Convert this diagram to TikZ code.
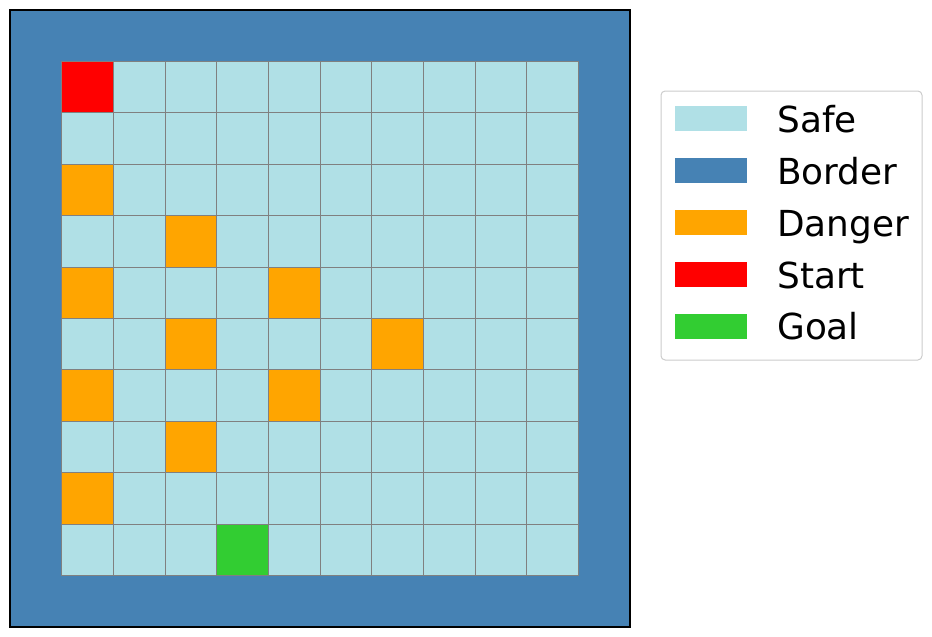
\documentclass[tikz,border=0pt]{standalone}
\usepackage{fontspec}
\setmainfont{DejaVu Sans}
\definecolor{safec}{HTML}{B0E0E6}
\definecolor{borderc}{HTML}{4682B4}
\definecolor{dangerc}{HTML}{FFA500}
\definecolor{startc}{HTML}{FF0000}
\definecolor{goalc}{HTML}{32CD32}
\begin{document}
\begin{tikzpicture}[x=0.72pt,y=-0.72pt,
  gridline/.style={draw=gray, line width=0.72pt},
  frame/.style={draw=black, line width=0.8pt},
  legbox/.style={draw=black!20, fill=white, rounded corners=3pt, line width=0.72pt},
  legtext/.style={anchor=base west, inner sep=0pt, font=\fontsize{25.8}{30}\selectfont, text=black}]
\useasboundingbox (0,0) rectangle (932,636);
\fill[white] (0,0) rectangle (932,636);
\def\cw{51.667}
\def\ch{51.417}
% border
\filldraw[fill=borderc, frame] (10,10) rectangle (630,627);
% safe cells
\foreach \r in {0,...,9}
  \foreach \c in {0,...,9}
    \fill[safec] ({10+\cw*(\c+1)},{10+\ch*(\r+1)}) rectangle ++(\cw,\ch);
% special cells
\foreach \c/\r/\col in {0/0/startc, 0/2/dangerc, 2/3/dangerc, 0/4/dangerc, 4/4/dangerc,
  2/5/dangerc, 6/5/dangerc, 0/6/dangerc, 4/6/dangerc, 2/7/dangerc, 0/8/dangerc, 3/9/goalc}
    \fill[\col] ({10+\cw*(\c+1)},{10+\ch*(\r+1)}) rectangle ++(\cw,\ch);
% grid lines
\foreach \i in {0,...,10} {
  \draw[gridline] ({61.667+\cw*\i},61.417) -- ++(0,{10*\ch});
  \draw[gridline] (61.667,{61.417+\ch*\i}) -- ++({10*\cw},0);
}
% legend
\draw[legbox] (661,91) rectangle (922,360);
\foreach \y/\col in {106/safec, 158/borderc, 210/dangerc, 262/startc, 313.5/goalc}
  \fill[\col] (675,\y) rectangle ++(72,25);
\node[legtext] (lsafe) at (777,132) {Safe};
\node[legtext] (lborder) at (777,184) {Border};
\node[legtext] (ldanger) at (777,236) {Danger};
\node[legtext] (lstart) at (777,288) {Start};
\node[legtext] (lgoal) at (777,339.5) {Goal};
\end{tikzpicture}
\end{document}
